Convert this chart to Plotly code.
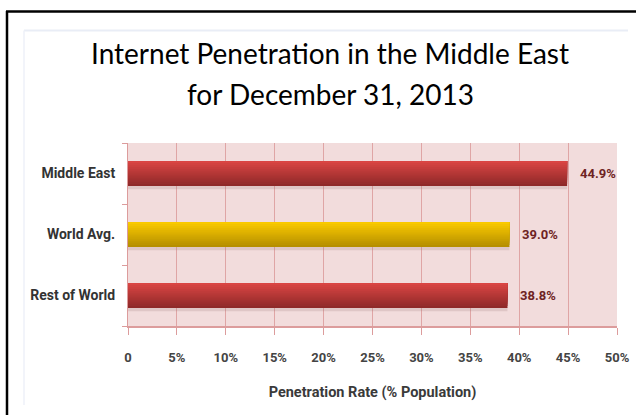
import plotly.graph_objects as go

# ---- data ----
categories = ["Rest of World", "World Avg.", "Middle East"]   # bottom -> top
values = [38.8, 39.0, 44.9]
bar_kind = ["red", "gold", "red"]
x_tickvals = [0, 5, 10, 15, 20, 25, 30, 35, 40, 45, 50]
x_ticktext = ["0", "5%", "10%", "15%", "20%", "25%", "30%", "35%", "40%", "45%", "50%"]
title_lines = ["Internet Penetration in the Middle East", "for December 31, 2013"]
x_title = "Penetration Rate (% Population)"

# ---- style ----
W, H = 636, 415
ML, MR, MT, MB = 128, 19, 143, 89
PW, PH = W - ML - MR, H - MT - MB
FONT = "Roboto, Liberation Sans, sans-serif"
TITLE_FONT = "Lato, Liberation Sans, sans-serif"
grad = {
    "red": [(0xdc, 0x46, 0x44), (0x8c, 0x28, 0x28)],
    "gold": [(0xfc, 0xcc, 0x00), (0xb3, 0x8c, 0x00)],
}
BAR_W = 0.41
N_STRIPS = 12


def mix(c1, c2, t):
    return "rgb(%d,%d,%d)" % tuple(round(a + (b - a) * t) for a, b in zip(c1, c2))


def px_x(px):
    return (px - ML) / PW


def px_y(py):
    return (H - MB - py) / PH


fig = go.Figure()

# soft shadow under bars
fig.add_trace(go.Bar(
    x=values, y=categories, orientation="h",
    width=0.07, offset=-BAR_W / 2 - 0.055,
    marker=dict(color="rgba(150,110,110,0.20)", line=dict(width=0)),
    hoverinfo="skip", showlegend=False,
))

# gradient bars: overlapping strips, each reaching the top of the bar
sw = BAR_W / N_STRIPS
for i in range(N_STRIPS):
    t = 1 - (i + 0.5) / N_STRIPS  # i=0 bottom -> darkest
    cols = [mix(grad[k][0], grad[k][1], t) for k in bar_kind]
    fig.add_trace(go.Bar(
        x=values, y=categories, orientation="h",
        width=BAR_W - i * sw, offset=-BAR_W / 2 + i * sw,
        marker=dict(color=cols, line=dict(width=0)),
        hoverinfo="skip", showlegend=False,
    ))

# value labels
for c, v in zip(categories, values):
    fig.add_annotation(
        x=v, y=c, xref="x", yref="y", text="<b>%.1f%%</b>" % v, showarrow=False,
        xanchor="left", xshift=11,
        font=dict(family=FONT, size=13, color="#6e2323"),
    )

# second title line
fig.add_annotation(
    x=px_x(330), y=px_y(94), xref="paper", yref="paper", text=title_lines[1],
    showarrow=False, xanchor="center", yanchor="middle",
    font=dict(family=TITLE_FONT, size=28, color="black"),
)

# frame / decoration shapes
shapes = [
    dict(type="line", xref="paper", yref="paper", x0=px_x(7), x1=px_x(7), y0=px_y(11), y1=px_y(H + 5),
         line=dict(color="black", width=2.5)),
    dict(type="line", xref="paper", yref="paper", x0=px_x(6), x1=px_x(W + 5), y0=px_y(11.5), y1=px_y(11.5),
         line=dict(color="black", width=2.5)),
    dict(type="line", xref="paper", yref="paper", x0=px_x(24), x1=px_x(628), y0=px_y(30.5), y1=px_y(30.5),
         line=dict(color="#e9edf6", width=2)),
    dict(type="line", xref="paper", yref="paper", x0=px_x(24), x1=px_x(24), y0=px_y(30.5), y1=px_y(405),
         line=dict(color="#eef1f8", width=1.5)),
]

fig.update_layout(
    width=W, height=H,
    margin=dict(l=ML, r=MR, t=MT, b=MB, pad=0, autoexpand=False),
    paper_bgcolor="white",
    plot_bgcolor="#f2dcdc",
    barmode="overlay",
    showlegend=False,
    shapes=shapes,
    title=dict(
        text=title_lines[0],
        x=330 / W, xref="container", xanchor="center",
        y=1 - 54.5 / H, yref="container", yanchor="middle",
        font=dict(family=TITLE_FONT, size=28, color="black"),
        automargin=False,
    ),
    xaxis=dict(
        range=[0, 50], tickvals=x_tickvals, ticktext=x_ticktext,
        showgrid=True, gridcolor="#dfa5a5", gridwidth=1,
        showline=True, linecolor="#dc9c9c", linewidth=2,
        ticks="outside", ticklen=7, tickcolor="#dc9c9c", tickwidth=1,
        tickfont=dict(family=FONT, size=13, color="#444444", weight="bold"),
        ticklabelstandoff=11,
        zeroline=False, automargin=False,
        title=dict(text=x_title, standoff=23,
                   font=dict(family=FONT, size=14.5, color="#3a3a3a", weight="bold")),
        fixedrange=True,
    ),
    yaxis=dict(
        categoryorder="array", categoryarray=categories,
        range=[-0.5, 2.5],
        showgrid=False, automargin=False,
        showline=True, linecolor="#dc9c9c", linewidth=1,
        ticks="outside", ticklen=5, tickcolor="#dc9c9c", tickson="boundaries",
        tickfont=dict(family=FONT, size=14, color="#333333", weight="bold"),
        ticklabelstandoff=9,
        fixedrange=True,
    ),
)

fig.write_html("out.html", config={"displayModeBar": False},
               post_script="document.body.style.margin='0';")
